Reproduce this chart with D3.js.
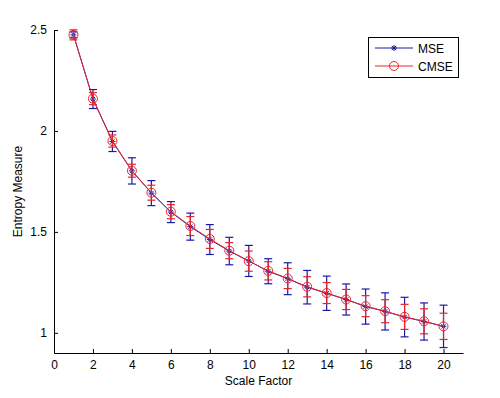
<!DOCTYPE html>
<html>
<head>
<meta charset="UTF-8">
<title>MSE vs CMSE</title>
<style>
    body{ margin:0; background:#fff;}
    svg{ display:block; font-family:"Liberation Sans", Arial, sans-serif;}
</style>
</head>
<body>
<script src="https://cdn.jsdelivr.net/npm/d3@7"></script>
<script>

// scale factors 1..20
var scales = [1,2,3,4,5,6,7,8,9,10,11,12,13,14,15,16,17,18,19,20];

// mean entropy values
var mseMean  = [2.476,2.158,1.948,1.802,1.692,1.598,1.526,1.462,1.405,1.356,1.305,1.268,1.226,1.196,1.165,1.130,1.106,1.078,1.056,1.032];
var cmseMean = [2.476,2.160,1.950,1.803,1.694,1.600,1.529,1.465,1.407,1.355,1.307,1.269,1.228,1.197,1.165,1.132,1.107,1.079,1.057,1.032];

// error bar half widths
var mseErr  = [0.015,0.047,0.050,0.065,0.062,0.052,0.067,0.074,0.068,0.077,0.062,0.079,0.083,0.085,0.077,0.087,0.092,0.098,0.092,0.105];
var cmseErr = [0.025,0.030,0.030,0.032,0.037,0.035,0.047,0.047,0.040,0.050,0.045,0.050,0.050,0.052,0.050,0.052,0.057,0.062,0.062,0.065];

var xTicks = [0,2,4,6,8,10,12,14,16,18,20];
var yTicks = [1,1.5,2,2.5];

var W = 500, H = 398;
var svg = d3.select("body").append("svg").attr("width", W).attr("height", H);

var x = d3.scaleLinear().domain([0, 21]).range([54, 463]);
var y = d3.scaleLinear().domain([0.9, 2.5]).range([353, 30]);

// axes (inward ticks, matlab style)
var gx = svg.append("g").attr("transform", "translate(0," + y(0.9) + ")")
    .call(d3.axisBottom(x).tickValues(xTicks).tickSizeInner(-4).tickSizeOuter(0).tickPadding(7));
var gy = svg.append("g").attr("transform", "translate(" + x(0) + ",0)")
    .call(d3.axisLeft(y).tickValues(yTicks).tickSizeInner(-4).tickSizeOuter(0).tickPadding(7).tickFormat(d3.format("")));

[gx, gy].forEach(function(g){
    g.selectAll(".domain").attr("stroke", "#000");
    g.selectAll(".tick line").attr("stroke", "#000");
    g.selectAll("text").attr("fill", "#000").style("font-size", "12px");
});

svg.append("text").attr("x", (x(0) + x(21)) / 2).attr("y", 385)
    .attr("text-anchor", "middle").style("font-size", "12px").text("Scale Factor");
svg.append("text").attr("transform", "translate(22," + ((y(0.9) + y(2.5)) / 2) + ") rotate(-90)")
    .attr("text-anchor", "middle").style("font-size", "12px").text("Entropy Measure");

function drawSeries(means, errs, color){
    var g = svg.append("g");
    var pts = scales.map(function(s, i){ return {s: s, m: means[i], e: errs[i]}; });

    g.append("path").datum(pts)
        .attr("fill", "none").attr("stroke", color).attr("stroke-width", 1)
        .attr("d", d3.line().x(function(d){ return x(d.s); }).y(function(d){ return y(d.m); }));

    var eb = g.selectAll(".eb").data(pts).enter().append("g")
        .attr("stroke", color).attr("stroke-width", 1.2);
    eb.append("line")
        .attr("x1", function(d){ return x(d.s); }).attr("x2", function(d){ return x(d.s); })
        .attr("y1", function(d){ return y(d.m - d.e); }).attr("y2", function(d){ return y(d.m + d.e); });
    [1, -1].forEach(function(sg){
        eb.append("line")
            .attr("x1", function(d){ return x(d.s) - 4; }).attr("x2", function(d){ return x(d.s) + 4; })
            .attr("y1", function(d){ return y(d.m + sg * d.e); }).attr("y2", function(d){ return y(d.m + sg * d.e); });
    });
    return {g: g, pts: pts};
}

function starPath(cx, cy, r){
    var p = "";
    [0, 45, 90, 135].forEach(function(a){
        var rad = a * Math.PI / 180, dx = r * Math.cos(rad), dy = r * Math.sin(rad);
        p += "M" + (cx - dx) + "," + (cy - dy) + "L" + (cx + dx) + "," + (cy + dy);
    });
    return p;
}

var mse = drawSeries(mseMean, mseErr, "#1a1aa8");
mse.g.selectAll(".star").data(mse.pts).enter().append("path")
    .attr("d", function(d){ return starPath(x(d.s), y(d.m), 3); })
    .attr("stroke", "#1a1aa8").attr("stroke-width", 1);

var cmse = drawSeries(cmseMean, cmseErr, "#e8242a");
cmse.g.selectAll(".circ").data(cmse.pts).enter().append("circle")
    .attr("cx", function(d){ return x(d.s); }).attr("cy", function(d){ return y(d.m); })
    .attr("r", 4.5).attr("fill", "none").attr("stroke", "#e8242a").attr("stroke-width", 1);

// legend
var lg = svg.append("g");
lg.append("rect").attr("x", 368.5).attr("y", 37.5).attr("width", 90).attr("height", 40)
    .attr("fill", "#fff").attr("stroke", "#000").attr("stroke-width", 1);
var legendItems = [["MSE", "#1a1aa8", 48], ["CMSE", "#e8242a", 66]];
legendItems.forEach(function(it){
    lg.append("line").attr("x1", 375).attr("x2", 413).attr("y1", it[2]).attr("y2", it[2])
        .attr("stroke", it[1]);
    if (it[0] === "MSE") {
        lg.append("path").attr("d", starPath(394, it[2], 3)).attr("stroke", it[1]);
    } else {
        lg.append("circle").attr("cx", 394).attr("cy", it[2]).attr("r", 4.5)
            .attr("fill", "none").attr("stroke", it[1]);
    }
    lg.append("text").attr("x", 418).attr("y", it[2] + 4.5).style("font-size", "12px").text(it[0]);
});

</script>
</body>
</html>
